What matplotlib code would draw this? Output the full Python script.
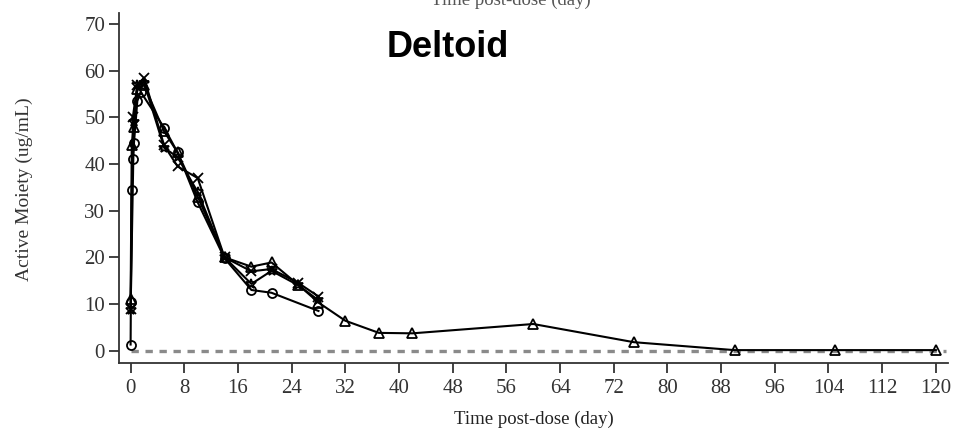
import numpy as np
import matplotlib
matplotlib.use("Agg")
import matplotlib.pyplot as plt

# Deltoid injection, plasma concentration of active moiety by subject
circle_days = [0, 0.04, 0.17, 0.33, 0.5, 1, 1.5, 5, 7, 10, 14, 18, 21, 28]
circle_vals = [1.3, 10.5, 34.5, 41, 44.5, 53.5, 55.5, 47.8, 42.5, 31.8, 19.8, 13.0, 12.4, 8.5]

tri_days = [0, 0.17, 0.5, 1, 2, 5, 7, 10, 14, 18, 21, 25, 28, 32, 37, 42, 60, 75, 90, 105, 120]
tri_vals = [11, 44, 48, 56, 57, 47, 42.5, 33, 20, 18, 18.9, 14.1, 10.3, 6.4, 3.8, 3.7, 5.7, 1.8, 0.1, 0.1, 0.1]

x_days = [0, 0.33, 1, 2, 5, 7, 10, 14, 18, 21, 25, 28]
x_vals = [9, 50, 57, 58.5, 44, 39.5, 37, 20, 17, 17.5, 14.5, 11.6]

star_days = [0, 0.5, 1, 2, 5, 7, 10, 14, 18, 21, 25, 28]
star_vals = [8.6, 49, 57, 57.5, 43.5, 41.5, 34, 20, 14.3, 17.1, 14, 10.8]

lloq = 0  # dotted reference line
xticks = np.arange(0, 121, 8)
yticks = np.arange(0, 71, 10)

plt.rcParams['font.family'] = ['Liberation Serif', 'DejaVu Serif']

fig = plt.figure(figsize=(9.55, 4.36), dpi=100)
ax = fig.add_axes([0.1246, 0.1681, 0.868, 0.802])

ax.plot([0, 121.5], [lloq, lloq], color='#8a8a8a', lw=2.4,
        linestyle=(0, (2.2, 2.0)), zorder=1)

mk = dict(color='black', lw=1.5, mfc='none', mec='black', mew=1.3, zorder=3)
ax.plot(circle_days, circle_vals, marker='o', ms=6.5, **mk)
ax.plot(tri_days, tri_vals, marker='^', ms=6.5, **mk)
ax.plot(x_days, x_vals, marker='x', ms=7, **mk)
ax.plot(star_days, star_vals, marker='*', ms=7.5, **mk)

ax.set_xlim(-1.73, 121.8)
ax.set_ylim(-2.6, 72.4)
ax.set_xticks(xticks)
ax.set_yticks(yticks)

for s in ['top', 'right']:
    ax.spines[s].set_visible(False)
for s in ['left', 'bottom']:
    ax.spines[s].set_linewidth(1.3)
    ax.spines[s].set_color('#333333')

ax.tick_params(axis='both', direction='out', length=7, width=1.3,
               colors='#333333', labelsize=15, labelcolor='#333333')
ax.tick_params(axis='x', pad=5)
ax.tick_params(axis='y', pad=3)

ax.set_xlabel('Time post-dose (day)', fontsize=13.5, color='#222222', labelpad=9)
fig.text(0.026, 0.565, 'Active Moiety (ug/mL)', rotation=90, fontsize=14,
         color='#333333', ha='center', va='center')

# title text cut off at the top of the scan
fig.text(0.535, 1.0, 'Time post-dose (day)', fontsize=13.5, color='#555555',
         ha='center', va='center')

fig.text(0.469, 0.89, 'Deltoid', fontsize=26, fontweight='bold',
         family='Liberation Sans', ha='center', va='center', color='black')

fig.savefig('out.png', dpi=100)
